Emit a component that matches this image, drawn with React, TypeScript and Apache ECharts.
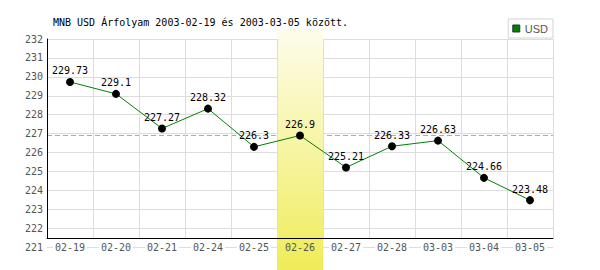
import React, { useEffect, useRef } from "react";
import * as echarts from "echarts";

const categories = ["02-19", "02-20", "02-21", "02-24", "02-25", "02-26", "02-27", "02-28", "03-03", "03-04", "03-05"];
const usdValues = [229.73, 229.1, 227.27, 228.32, 226.3, 226.9, 225.21, 226.33, 226.63, 224.66, 223.48];
const highlightCategory = "02-26";
const referenceValue = 226.9;
const yMin = 221;
const yMax = 232;
const yStep = 1;
const titleText = "MNB USD Árfolyam 2003-02-19 és 2003-03-05 között.";
const seriesName = "USD";

const MONO = "DejaVu Sans Mono";
const GRAY = "#555";
const GRID_COLOR = "#dddddd";
const REF_COLOR = "#80c880";

export default function App() {
  const ref = useRef<HTMLDivElement>(null);
  useEffect(() => {
    if (!ref.current) return;
    const chart = echarts.init(ref.current, undefined, { renderer: "svg" });
    const option: any = {
      animation: false,
      backgroundColor: "#fff",
      title: {
        text: titleText,
        left: 53,
        top: 17,
        padding: 0,
        textStyle: { fontFamily: MONO, fontSize: 10, fontWeight: "normal", color: "#000" },
      },
      legend: {
        top: 19,
        right: 47,
        orient: "horizontal",
        itemWidth: 7,
        itemHeight: 7,
        borderColor: "#d4d4d4",
        borderWidth: 1,
        borderRadius: 0,
        padding: [4, 5, 4, 4],
        textStyle: { color: GRAY, fontSize: 11, fontFamily: "Liberation Sans" },
        data: [
          {
            name: seriesName,
            icon: "rect",
            itemStyle: { color: "#008000", borderColor: "#333", borderWidth: 1 },
          },
        ],
      },
      grid: [
        { left: 47, right: 47, top: 39.06, height: 208 },
        { left: 47, right: 47, top: 39, height: 199 },
        { left: 47, right: 47, top: 29, bottom: 0 },
      ],
      xAxis: [
        {
          gridIndex: 0,
          type: "category",
          data: categories,
          boundaryGap: true,
          z: 3,
          axisLine: { show: false },
          axisTick: { show: false },
          splitLine: { show: false },
          axisLabel: {
            margin: 0,
            verticalAlign: "middle",
            interval: 0,
            formatter: (v: string) => (v === highlightCategory ? `{h|${v}}` : `{n|${v}}`),
            rich: {
              n: { backgroundColor: "#fff", padding: [0, 2], fontFamily: MONO, fontSize: 10, color: GRAY },
              h: { padding: [0, 2], fontFamily: MONO, fontSize: 10, color: GRAY },
            },
          },
        },
        {
          gridIndex: 1,
          type: "category",
          data: categories,
          boundaryGap: true,
          z: 3,
          axisLine: { show: true, lineStyle: { color: "#000", width: 1 } },
          axisTick: { show: false },
          axisLabel: { show: false },
          splitLine: { show: true, interval: 0, lineStyle: { color: GRID_COLOR, width: 1 } },
        },
        {
          gridIndex: 2,
          type: "category",
          data: categories,
          boundaryGap: true,
          show: false,
        },
        {
          gridIndex: 0,
          type: "value",
          min: 0,
          max: 1,
          show: false,
          splitLine: { show: false },
        },
      ],
      yAxis: [
        {
          gridIndex: 0,
          type: "value",
          min: yMin,
          max: yMax,
          interval: yStep,
          z: 0,
          axisLine: { show: false },
          axisTick: { show: false },
          axisLabel: { margin: 4, color: GRAY, fontFamily: MONO, fontSize: 10 },
          splitLine: { show: true, lineStyle: { color: GRID_COLOR, width: 1 } },
        },
        {
          gridIndex: 1,
          type: "value",
          min: 0,
          max: 1,
          z: 3,
          axisLine: { show: true, lineStyle: { color: "#000", width: 1 } },
          axisTick: { show: false },
          axisLabel: { show: false },
          splitLine: { show: false },
        },
        {
          gridIndex: 2,
          type: "value",
          min: 0,
          max: 1,
          show: false,
          splitLine: { show: false },
        },
      ],
      series: [
        {
          name: "ref",
          type: "line",
          xAxisIndex: 3,
          yAxisIndex: 0,
          data: [
            [0, referenceValue],
            [1, referenceValue],
          ],
          z: 1,
          silent: true,
          symbol: "none",
          color: REF_COLOR,
          lineStyle: { color: REF_COLOR, type: [5, 3], width: 1 },
        },
        {
          name: "band",
          type: "bar",
          xAxisIndex: 2,
          yAxisIndex: 2,
          z: 2,
          silent: true,
          barWidth: "100%",
          data: categories.map((c) => (c === highlightCategory ? 1 : null)),
          itemStyle: {
            color: new echarts.graphic.LinearGradient(0, 0, 0, 1, [
              { offset: 0, color: "#fefdec" },
              { offset: 1, color: "#efec58" },
            ]),
          },
        },
        {
          name: seriesName,
          type: "line",
          xAxisIndex: 0,
          yAxisIndex: 0,
          z: 5,
          data: usdValues,
          symbol: "circle",
          symbolSize: 8,
          lineStyle: { color: "#008000", width: 1 },
          itemStyle: { color: "#000" },
          label: {
            show: true,
            position: "top",
            distance: 2,
            color: "#000",
            fontFamily: MONO,
            fontSize: 10,
          },
        },
      ],
    };
    chart.setOption(option);
    return () => chart.dispose();
  }, []);
  return (
    <div
      ref={ref}
      style={{ position: "fixed", left: 0, top: 0, width: 600, height: 270 }}
    />
  );
}
